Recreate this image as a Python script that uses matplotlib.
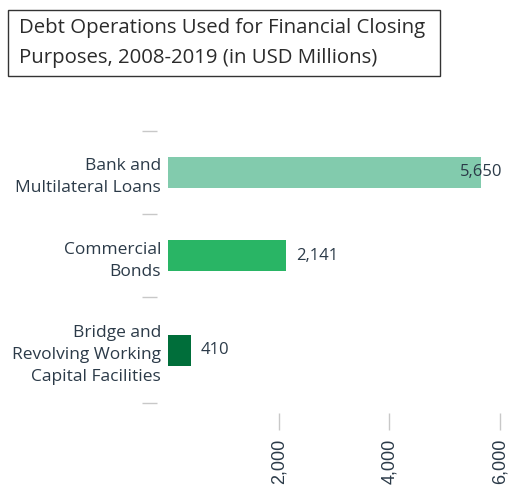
import numpy as np
import matplotlib

matplotlib.use("Agg")
import matplotlib.pyplot as plt
from matplotlib.patches import Rectangle
from matplotlib.ticker import FuncFormatter

# 数据
categories = ["Bank and\nMultilateral Loans", "Commercial\nBonds",
              "Bridge and\nRevolving Working\nCapital Facilities"]
values = [5650, 2141, 410]
bar_colors = ["#82cbad", "#29b565", "#006e3a"]
x_ticks = [2000, 4000, 6000]
title = "Debt Operations Used for Financial Closing\nPurposes, 2008-2019 (in USD Millions)"

FONT = "Open Sans"
W, H = 508, 488
fig = plt.figure(figsize=(W / 100, H / 100), dpi=100)

# 轴区域（像素换算成 figure 比例）
ax_l, ax_r, ax_t, ax_b = 168, 500, 131, 403
ax = fig.add_axes([ax_l / W, 1 - ax_b / H, (ax_r - ax_l) / W, (ax_b - ax_t) / H])

# 每个类别的带高按标签行数定（多一行多一截）
n_lines = np.array([c.count("\n") + 1 for c in categories])
band = 37 + 23 * n_lines
edges = np.concatenate([[0], np.cumsum(band)])
centers = (edges[:-1] + edges[1:]) / 2

ax.barh(centers, values, height=31, color=bar_colors)
ax.set_ylim(edges[-1], 0)
ax.set_xlim(0, 6000)

# 数值标签：放不下就贴右边
for c, v in zip(centers, values):
    txt = f"{v:,}"
    if v > 5000:
        ax.annotate(txt, (6000, c), xytext=(2, 0), textcoords="offset points",
                    ha="right", va="center", fontsize=12, color="#2b3a48",
                    family=FONT, annotation_clip=False)
    else:
        ax.annotate(txt, (v, c), xytext=(7, 0), textcoords="offset points",
                    ha="left", va="center", fontsize=12, color="#2b3a48",
                    family=FONT)

for s in ax.spines.values():
    s.set_visible(False)
ax.spines["left"].set_position(("outward", 8))
ax.spines["bottom"].set_position(("outward", 7))

ax.set_yticks(centers)
ax.set_yticklabels(categories, fontsize=12.5, family=FONT, color="#2b3a48",
                   linespacing=1.5)
ax.tick_params(axis="y", which="major", length=0, pad=-3)
ax.set_yticks(edges, minor=True)
ax.tick_params(axis="y", which="minor", length=11, width=1, color="#c8c8c8")

ax.set_xticks(x_ticks)
ax.xaxis.set_major_formatter(FuncFormatter(lambda v, p: f"{v:,.0f}"))
ax.tick_params(axis="x", length=12, width=1, color="#c8c8c8", pad=7,
               labelsize=13, labelcolor="#2b3a48", labelrotation=90)
for lbl in ax.get_xticklabels():
    lbl.set_family("Liberation Sans")

# 标题框
fig.patches.append(Rectangle((8 / W, 1 - 76 / H), 432 / W, 66 / H,
                             transform=fig.transFigure, fill=False,
                             edgecolor="#333333", lw=1))
fig.text(19 / W, 1 - 43 / H, title, ha="left", va="center", fontsize=14.7,
         family=FONT, color="#2b2b2b", linespacing=1.6)

fig.savefig("out.png", dpi=100)
